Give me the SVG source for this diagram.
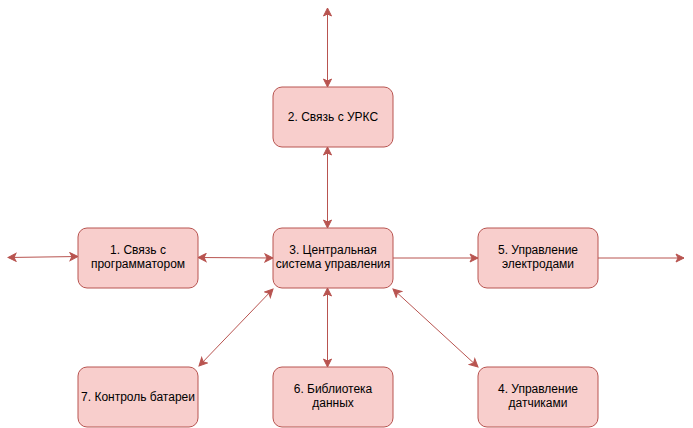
<svg xmlns="http://www.w3.org/2000/svg" width="693" height="428" viewBox="0 0 693 428">
<style>
.box{fill:#f8cecc;stroke:#b85450;stroke-width:1}
.lbl{font-family:"Liberation Sans",Arial,sans-serif;font-size:12px;fill:#000;text-anchor:middle}
.edge{fill:none;stroke:#b85450;stroke-width:1}
</style>
<defs>
<marker id="ah" viewBox="0 0 10 10" refX="9" refY="5" markerWidth="10" markerHeight="10" markerUnits="userSpaceOnUse" orient="auto-start-reverse">
<path d="M1,1 L9,5 L1,9 L3,5 Z" fill="#b85450" stroke="#b85450" stroke-width="1"/>
</marker>
</defs>
<rect width="693" height="428" fill="#fff"/>
<g id="connectors">
<path class="edge" d="M327.5,8 L327.5,87" marker-start="url(#ah)" marker-end="url(#ah)"/>
<path class="edge" d="M327.5,147 L327.5,228" marker-start="url(#ah)" marker-end="url(#ah)"/>
<path class="edge" d="M8,257.5 L78,256.5" marker-start="url(#ah)" marker-end="url(#ah)"/>
<path class="edge" d="M198,257.5 L273,258" marker-start="url(#ah)" marker-end="url(#ah)"/>
<path class="edge" d="M393,258 L478,258" marker-end="url(#ah)"/>
<path class="edge" d="M598,258 L684,258" marker-end="url(#ah)"/>
<path class="edge" d="M273,289 L199,366" marker-start="url(#ah)" marker-end="url(#ah)"/>
<path class="edge" d="M327.5,288 L327.5,367" marker-start="url(#ah)" marker-end="url(#ah)"/>
<path class="edge" d="M393,289 L478,367" marker-start="url(#ah)" marker-end="url(#ah)"/>
</g>
<g id="node1"><rect class="box" x="78" y="228" width="120" height="60" rx="9"/><text class="lbl" x="138" y="254">1. Связь с</text><text class="lbl" x="138" y="268">программатором</text></g>
<g id="node2"><rect class="box" x="273" y="87" width="120" height="60" rx="9"/><text class="lbl" x="333" y="121">2. Связь с УРКС</text></g>
<g id="node3"><rect class="box" x="273" y="228" width="120" height="60" rx="9"/><text class="lbl" x="333" y="254">3. Центральная</text><text class="lbl" x="333" y="268">система управления</text></g>
<g id="node5"><rect class="box" x="478" y="228" width="120" height="60" rx="9"/><text class="lbl" x="538" y="254">5. Управление</text><text class="lbl" x="538" y="268">электродами</text></g>
<g id="node7"><rect class="box" x="78" y="367" width="120" height="60" rx="9"/><text class="lbl" x="138" y="401">7. Контроль батареи</text></g>
<g id="node6"><rect class="box" x="273" y="367" width="120" height="60" rx="9"/><text class="lbl" x="333" y="393">6. Библиотека</text><text class="lbl" x="333" y="407">данных</text></g>
<g id="node4"><rect class="box" x="478" y="367" width="120" height="60" rx="9"/><text class="lbl" x="538" y="393">4. Управление</text><text class="lbl" x="538" y="407">датчиками</text></g>
</svg>
